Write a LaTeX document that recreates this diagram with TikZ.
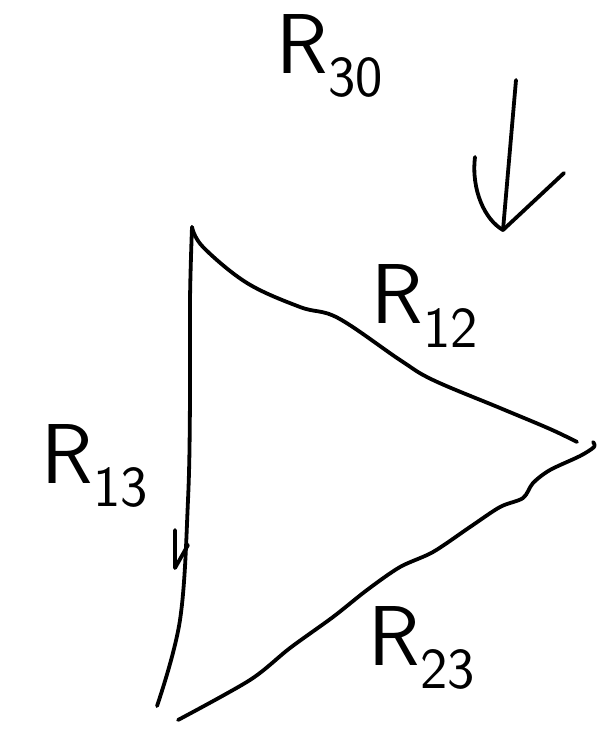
\documentclass[tikz,border=0pt]{standalone}
\usepackage{fontspec}
\usetikzlibrary{positioning}
\newcommand{\rsub}[1]{R\raisebox{-0.28em}{\fontsize{58}{60}\selectfont #1}}
\tikzset{pen/.style={line width=3.8pt, line cap=round, line join=round},
  lbl/.style={font=\sffamily\fontsize{85}{100}\selectfont, inner sep=0pt}}
\begin{document}
\begin{tikzpicture}[x=1pt,y=-1pt]
\useasboundingbox (0,0) rectangle (612,738);
\coordinate (t) at (192,227);
\coordinate (r) at (577,442);
\coordinate (r2) at (593,442);
\coordinate (b) at (157,706);
\coordinate (b2) at (178,720);
\coordinate (a0) at (516,80);
\coordinate (a1) at (503,230);
\node[lbl] (r30) at (330,56) {\rsub{30}};
\node[lbl] (r12) at (425,306) {\rsub{12}};
\node[lbl] (r13) at (95,466) {\rsub{13}};
\node[lbl] (r23) at (422,648) {\rsub{23}};

% edges of the triangle
\draw[pen] plot[smooth, tension=0.6] coordinates {(t) (203,247) (247,283) (300,307)
  (338,318) (400,360) (433,380) (500,408) (550,429) (r)};
\draw[pen] plot[smooth, tension=0.5] coordinates {(r2) (594,447) (580,456) (550,470)
  (533,483) (523,498) (500,507) (470,527) (433,552) (400,567) (367,590) (333,617)
  (290,648) (250,680) (b2)};
\draw[pen] plot[smooth, tension=0.6] coordinates {(t) (190,300) (190,400) (188,500)
  (180,620) (b)};
\draw[pen] (175,530) -- (175,568) -- (188,545);
% arrow
\draw[pen] (a0) -- (a1);
\draw[pen] (a1) .. controls (485,220) and (471,190) .. (475,157);
\draw[pen] (a1) -- (564,173);
\end{tikzpicture}
\end{document}
